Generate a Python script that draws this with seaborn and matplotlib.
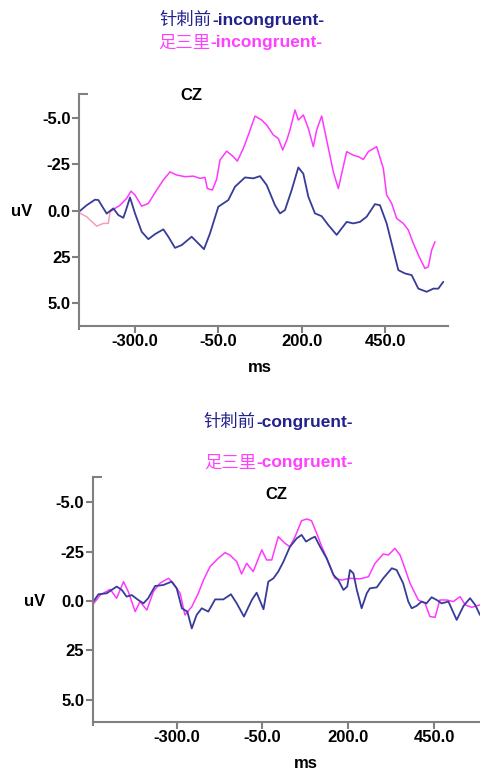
import numpy as np
import pandas as pd
import seaborn as sns
import matplotlib.pyplot as plt

# top panel: incongruent, CZ
inc_before_ms = [-468, -445, -420, -410, -385, -365, -350, -335, -327, -315, -300, -280, -260, -240,
                 -215, -200, -180, -160, -130, -110, -93, -75, -50, -20, 0, 30, 55, 75, 95, 120, 135,
                 150, 170, 190, 205, 220, 240, 260, 280, 305, 335, 355, 375, 395, 420, 435, 455, 475,
                 490, 510, 530, 550, 575, 595, 610, 625]
inc_before_uv = [0.05, -0.3, -0.6, -0.58, 0.15, -0.13, 0.23, 0.38, -0.04, -0.72, 0.14, 1.13, 1.53, 1.26,
                 1.0, 1.4, 2.0, 1.85, 1.4, 1.76, 2.07, 1.22, -0.22, -0.58, -1.3, -1.8, -1.75, -1.87, -1.39,
                 -0.3, 0.14, -0.04, -1.12, -2.34, -2.0, -0.76, 0.14, 0.29, 0.77, 1.3, 0.6, 0.68, 0.6, 0.32,
                 -0.36, -0.3, 0.68, 2.12, 3.2, 3.38, 3.47, 4.2, 4.37, 4.2, 4.2, 3.83]

inc_zsl_ms = [-468, -445, -415, -395, -380, -375, -360, -345, -325, -312, -300, -280, -260, -235, -215,
              -195, -175, -150, -125, -105, -90, -83, -68, -55, -45, -25, -5, 7, 25, 40, 60, 80, 95, 115,
              130, 143, 155, 165, 180, 190, 205, 220, 235, 245, 260, 275, 295, 310, 320, 335, 355, 370,
              385, 400, 425, 445, 455, 470, 485, 505, 520, 535, 555, 570, 580, 590, 600]
inc_zsl_uv = [0.1, 0.32, 0.83, 0.68, 0.68, 0.05, -0.13, -0.3, -0.67, -1.06, -0.85, -0.25, -0.4, -1.12,
              -1.66, -2.1, -1.93, -1.84, -1.87, -1.75, -1.8, -1.2, -1.12, -1.7, -2.74, -3.22, -2.92, -2.68,
              -3.37, -4.09, -5.11, -4.9, -4.63, -4.09, -3.9, -3.28, -3.8, -4.36, -5.44, -4.9, -5.17, -4.45,
              -3.46, -4.36, -5.11, -3.82, -2.1, -1.2, -2.0, -3.19, -3.0, -2.92, -2.77, -3.19, -3.46, -2.29,
              -0.85, -0.4, 0.41, 0.68, 1.04, 1.76, 2.57, 3.11, 3.02, 2.12, 1.67]

# bottom panel: congruent, CZ
con_before_ms = [-545, -528, -504, -475, -460, -446, -431, -412, -397, -383, -363, -339, -315, -300, -285,
                 -269, -256, -242, -227, -208, -188, -164, -142, -125, -104, -81, -67, -47, -33, -18, -4,
                 11, 30, 50, 64, 77, 93, 103, 118, 137, 157, 171, 186, 197, 205, 215, 225, 239, 254, 263,
                 283, 302, 327, 341, 360, 375, 385, 399, 414, 428, 443, 458, 472, 492, 516, 536, 555, 570, 584]
con_before_uv = [0.08, -0.34, -0.39, -0.73, -0.56, -0.22, -0.3, -0.05, 0.12, -0.14, -0.76, -0.81, -0.98,
                 -0.64, 0.37, 0.54, 1.39, 0.71, 0.37, 0.54, -0.08, -0.08, -0.34, 0.12, 0.79, -0.05, -0.42,
                 0.42, -0.98, -1.15, -1.49, -1.99, -2.75, -3.18, -3.35, -3.01, -3.18, -3.26, -2.75, -2.16,
                 -1.32, -1.06, -0.56, -0.73, -1.57, -1.4, -0.56, 0.37, -0.39, -0.64, -0.69, -1.15, -1.66,
                 -1.57, -0.9, 0.03, 0.37, 0.25, 0.03, 0.12, -0.19, -0.05, 0.12, 0.03, 0.96, 0.25, -0.14, 0.2, 0.71]

con_zsl_ms = [-545, -523, -494, -475, -455, -441, -421, -407, -387, -368, -349, -324, -310, -290, -276,
              -256, -237, -222, -203, -179, -159, -145, -125, -111, -96, -77, -52, -38, -23, -4, 16, 30,
              45, 64, 79, 93, 108, 123, 142, 161, 181, 205, 234, 259, 278, 302, 317, 336, 351, 365, 380,
              404, 424, 438, 453, 467, 487, 506, 526, 541, 560, 584]
con_zsl_uv = [0.2, -0.3, -0.59, -0.14, -0.98, -0.47, 0.54, 0.03, 0.46, -0.47, -0.9, -1.15, -0.9, -0.39,
              0.71, 0.29, -0.39, -1.06, -1.74, -2.16, -2.45, -2.33, -1.99, -1.37, -1.91, -1.49, -2.59,
              -2.08, -2.08, -3.26, -2.92, -2.75, -3.26, -4.07, -4.16, -4.07, -3.43, -2.75, -1.99, -1.15,
              -1.06, -1.15, -1.12, -1.23, -1.91, -2.38, -2.33, -2.67, -2.33, -1.66, -0.9, -0.05, 0.12,
              0.79, 0.83, -0.05, -0.05, 0.03, -0.22, 0.2, 0.32, 0.2]

ytick_vals = [-5.0, -2.5, 0.0, 2.5, 5.0]
ytick_labels = ["-5.0", "-25", "0.0", "25", "5.0"]
xtick_vals = [-300, -50, 200, 450]
xtick_labels = ["-300.0", "-50.0", "200.0", "450.0"]

sns.set_style("white")
plt.rcParams['font.family'] = ['Liberation Sans', 'DejaVu Sans']

NAVY = "#22228c"
MAGENTA = "#ff40ff"
BLUE_LINE = "#363c98"
PINK_LINE = "#ff38ff"
AXIS = "#808080"

fig = plt.figure(figsize=(4.8, 7.72), dpi=100)


def style_axis(ax, xlim, ylim):
    ax.set_xlim(*xlim)
    ax.set_ylim(*ylim)
    ax.set_xticks(xtick_vals)
    ax.set_xticklabels(xtick_labels, fontsize=12, fontweight='bold', color='black')
    ax.set_yticks(ytick_vals)
    ax.set_yticklabels(ytick_labels, fontsize=12, fontweight='bold', color='black')
    for s in ['top', 'right']:
        ax.spines[s].set_visible(False)
    for s in ['left', 'bottom']:
        ax.spines[s].set_color(AXIS)
        ax.spines[s].set_linewidth(1.5)
    ax.tick_params(axis='both', which='major', direction='out', length=5, width=1.5,
                   color=AXIS, pad=1, bottom=True, left=True)
    # little end caps: top of the y axis and left end of the x axis
    ax.plot([0, 0.025], [1, 1], transform=ax.transAxes, color=AXIS, lw=1.5,
            clip_on=False, solid_capstyle='butt')
    ax.plot([0, 0], [0, -0.018], transform=ax.transAxes, color=AXIS, lw=1.5,
            clip_on=False, solid_capstyle='butt')
    ax.set_xlabel("")
    ax.set_ylabel("")
    ax.grid(False)


# top panel
ax1 = fig.add_axes([0.1646, 0.5781, 0.768, 0.3001])
sns.lineplot(x=inc_zsl_ms[:6], y=inc_zsl_uv[:6], ax=ax1, color="#f4a0b8", lw=1.1,
             sort=False, estimator=None)
sns.lineplot(x=inc_zsl_ms[5:], y=inc_zsl_uv[5:], ax=ax1, color=PINK_LINE, lw=1.1,
             sort=False, estimator=None)
sns.lineplot(x=inc_before_ms, y=inc_before_uv, ax=ax1, color=BLUE_LINE, lw=1.3,
             sort=False, estimator=None)
style_axis(ax1, (-468, 638), (6.2, -6.3))

# bottom panel
ax2 = fig.add_axes([0.193, 0.0652, 0.807, 0.3165])
sns.lineplot(x=con_zsl_ms, y=con_zsl_uv, ax=ax2, color=PINK_LINE, lw=1.1,
             sort=False, estimator=None)
sns.lineplot(x=con_before_ms, y=con_before_uv, ax=ax2, color=BLUE_LINE, lw=1.3,
             sort=False, estimator=None)
style_axis(ax2, (-545, 584), (6.12, -6.27))


def two_part_title(x_px, y_px, cjk, latin, color):
    fig.text(x_px / 480, 1 - y_px / 772, cjk, ha='right', va='center', color=color,
             fontsize=12.5, family=['Noto Sans CJK SC', 'DejaVu Sans'])
    fig.text(x_px / 480, 1 - y_px / 772, latin, ha='left', va='center', color=color,
             fontsize=12.5, fontweight='bold')


two_part_title(212, 20, "针刺前", "-incongruent-", NAVY)
two_part_title(210, 43, "足三里", "-incongruent-", MAGENTA)
two_part_title(256, 422, "针刺前", "-congruent-", NAVY)
two_part_title(256, 463, "足三里", "-congruent-", MAGENTA)

label_kw = dict(fontsize=12, fontweight='bold', color='black', ha='center', va='center')
fig.text(191 / 480, 1 - 96 / 772, "CZ", **label_kw)
fig.text(22 / 480, 1 - 211 / 772, "uV", **label_kw)
fig.text(260 / 480, 1 - 368 / 772, "ms", **label_kw)
fig.text(276 / 480, 1 - 495 / 772, "CZ", **label_kw)
fig.text(35 / 480, 1 - 601 / 772, "uV", **label_kw)
fig.text(306 / 480, 1 - 763 / 772, "ms", **label_kw)

fig.savefig("out.png", dpi=100)
